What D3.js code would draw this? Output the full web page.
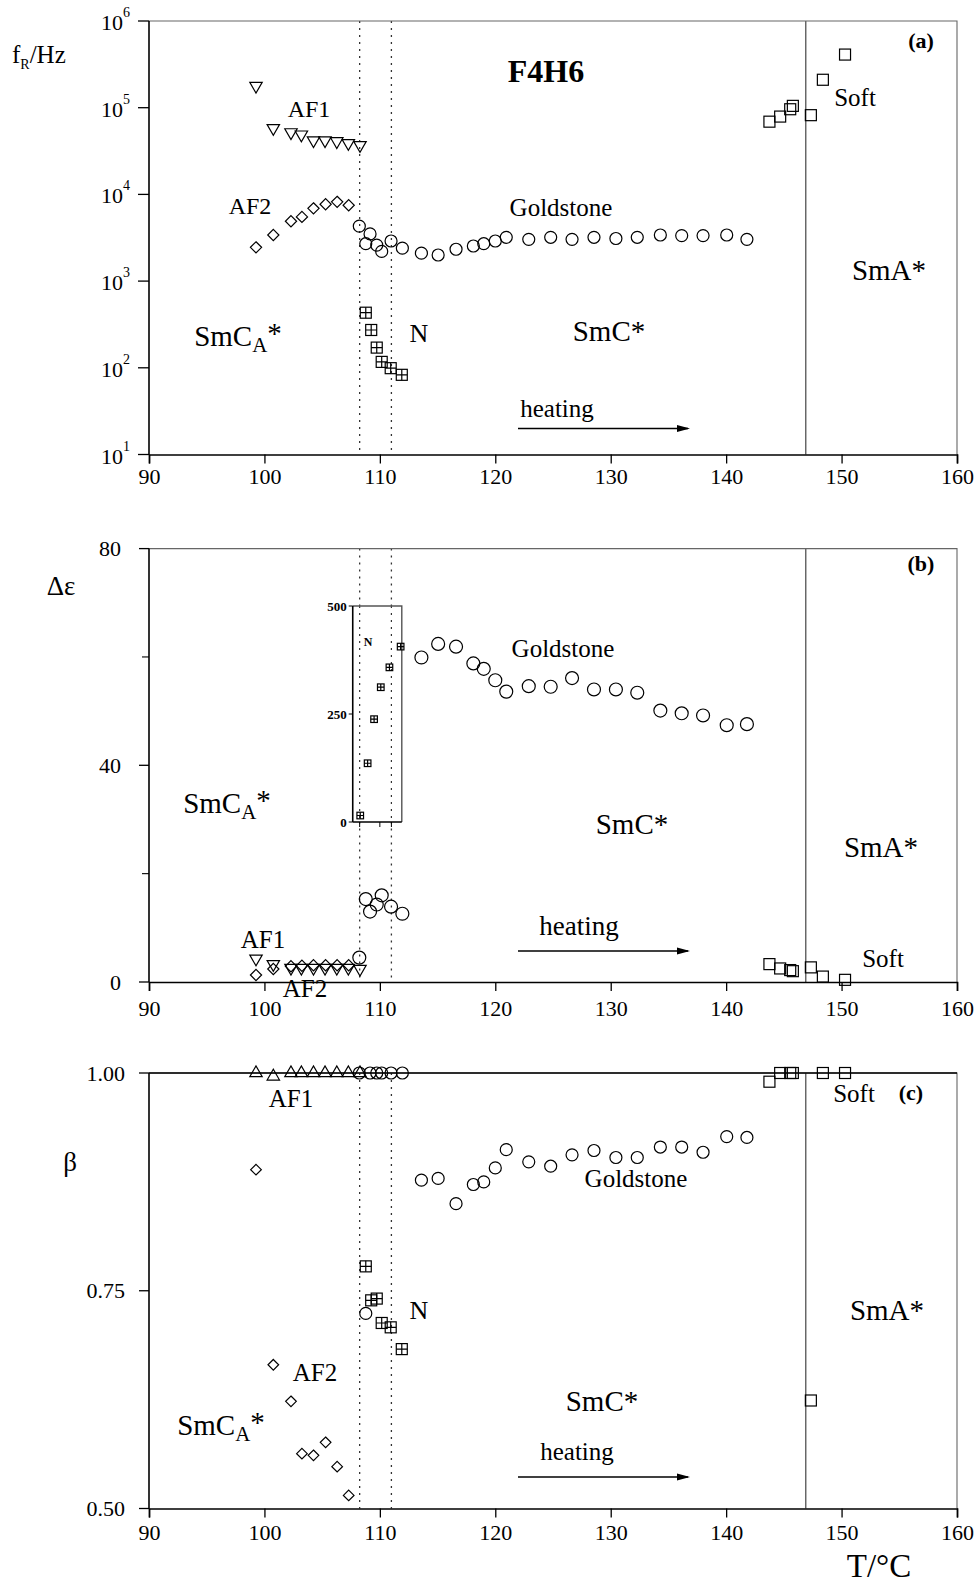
<!DOCTYPE html>
<html>
<head>
<meta charset="utf-8">
<script src="https://cdn.jsdelivr.net/npm/d3@7/dist/d3.min.js"></script>
<style>
  html, body { margin: 0; padding: 0; background: #fff; }
  svg { display: block; font-family: "Liberation Serif", "Times New Roman", serif; }
</style>
</head>
<body>
<svg id="chart" width="976" height="1584"></svg>
<script>
// ---- data -------------------------------------------------------------
const xTicks = [90, 100, 110, 120, 130, 140, 150, 160];
const logTicksA = [1, 2, 3, 4, 5, 6];            // exponents of 10
const yTicksB = [0, 40, 80];
const yMinorB = [20, 60];
const yTicksC = [0.50, 0.75, 1.00];
const yTickLabelsC = ["0.50", "0.75", "1.00"];
const insetTicks = [0, 250, 500];

const boundaryT = [108.25, 111.0, 146.9];        // dotted, dotted, solid

// AF1 mode
const af1T = [99.27, 100.77, 102.3, 103.2, 104.25, 105.25, 106.27, 107.27, 108.28];
const af1Freq = [178000, 58000, 52000, 49000, 42000, 42000, 41000, 39000, 37000];
const af1Eps = [4.3, 3.3, 2.6, 2.6, 2.6, 2.6, 2.6, 2.6, 2.4];
const af1Beta = [1.0, 0.996, 1.0, 1.0, 1.0, 1.0, 1.0, 1.0, 1.0];

// AF2 mode
const af2T = [99.27, 100.77, 102.3, 103.25, 104.25, 105.3, 106.3, 107.3];
const af2Freq = [2450, 3400, 4900, 5500, 6900, 7700, 8200, 7500];
const af2Eps = [1.3, 2.4, 2.9, 3.0, 3.1, 3.1, 3.1, 3.1];
const af2Beta = [0.889, 0.665, 0.623, 0.563, 0.561, 0.576, 0.548, 0.515];

// Goldstone mode
const gsT = [108.22, 108.78, 109.15, 109.73, 110.16, 110.97, 111.95, 113.6, 115.05, 116.6,
             118.1, 119.0, 120.0, 120.95, 122.9, 124.8, 126.65, 128.55, 130.45, 132.3,
             134.3, 136.15, 138.0, 140.05, 141.8];
const gsFreq = [4300, 2700, 3500, 2600, 2200, 2900, 2400, 2100, 2000, 2330,
                2540, 2700, 2900, 3200, 3030, 3200, 3030, 3200, 3100, 3200,
                3400, 3350, 3350, 3400, 3030];
const gsEps = [4.5, 15.3, 13.0, 14.3, 16.0, 13.9, 12.6, 59.9, 62.4, 61.9,
               58.8, 57.8, 55.7, 53.6, 54.6, 54.5, 56.1, 54.0, 54.0, 53.4,
               50.1, 49.6, 49.2, 47.4, 47.6];
const gsBeta = [1.0, 0.724, 1.0, 1.0, 1.0, 1.0, 1.0, 0.877, 0.879, 0.850,
                0.872, 0.875, 0.891, 0.912, 0.898, 0.893, 0.906, 0.911, 0.903, 0.903,
                0.915, 0.915, 0.909, 0.927, 0.926];

// N mode
const nT = [108.78, 109.25, 109.73, 110.16, 110.94, 111.9];
const nFreq = [432, 273, 171, 117, 99, 83];
const nBeta = [0.778, 0.739, 0.741, 0.713, 0.708, 0.683];
const nInsetT = [108.3, 108.94, 109.5, 110.08, 110.83, 111.8];
const nInsetEps = [15, 136, 238, 312, 358, 406];

// Soft mode
const softT = [143.75, 144.68, 145.55, 145.78, 147.34, 148.38, 150.3];
const softFreq = [69000, 79000, 96000, 105000, 82000, 210000, 410000];
const softEps = [3.3, 2.5, 2.2, 2.0, 2.7, 1.0, 0.4];
const softBeta = [0.99, 1.0, 1.0, 1.0, 0.624, 1.0, 1.0];

// ---- layout -----------------------------------------------------------
const svg = d3.select("#chart");
const X0 = 149, X1 = 957;
const x = d3.scaleLinear().domain([90, 160]).range([X0, X1]);
const yA = d3.scaleLog().domain([10, 1e6]).range([454.5, 21]);
const yB = d3.scaleLinear().domain([0, 80]).range([982, 548.6]);
const yC = d3.scaleLinear().domain([0.5, 1.0]).range([1508.5, 1073]);
const yIn = d3.scaleLinear().domain([0, 500]).range([822, 606]);
const insetX = [107.65, 111.9];

const zip = (a, b) => a.map((v, i) => [v, b[i]]);

// ---- markers ----------------------------------------------------------
function marker(g, type, cx, cy, s = 1) {
  const st = { fill: "none", stroke: "#000", "stroke-width": 1.2 };
  const apply = sel => { for (const k in st) sel.attr(k, st[k]); return sel; };
  if (type === "circle") {
    apply(g.append("circle").attr("cx", cx).attr("cy", cy).attr("r", 6 * s));
  } else if (type === "tdown" || type === "tup") {
    const a = 6.2 * s, h = a * Math.sqrt(3);
    const d = type === "tdown"
      ? `M${cx - a},${cy - h / 3}L${cx + a},${cy - h / 3}L${cx},${cy + 2 * h / 3}Z`
      : `M${cx - a},${cy + h / 3}L${cx + a},${cy + h / 3}L${cx},${cy - 2 * h / 3}Z`;
    apply(g.append("path").attr("d", d));
  } else if (type === "diamond") {
    const r = 5.6 * s;
    apply(g.append("path").attr("d", `M${cx},${cy - r}L${cx + r},${cy}L${cx},${cy + r}L${cx - r},${cy}Z`));
  } else if (type === "square") {
    const r = 5.5 * s;
    apply(g.append("rect").attr("x", cx - r).attr("y", cy - r).attr("width", 2 * r).attr("height", 2 * r));
  } else if (type === "splus") {
    const r = 5.5 * s;
    apply(g.append("rect").attr("x", cx - r).attr("y", cy - r).attr("width", 2 * r).attr("height", 2 * r));
    apply(g.append("path").attr("d", `M${cx - r},${cy}H${cx + r}M${cx},${cy - r}V${cy + r}`));
  }
}
function series(g, type, xs, ys, yScale, s = 1, xScale = x) {
  zip(xs, ys).forEach(([t, v]) => {
    if (v == null || isNaN(v)) return;
    marker(g, type, xScale(t), yScale(v), s);
  });
}

// ---- text helpers -----------------------------------------------------
function label(g, txt, cx, cy, size, opts = {}) {
  return g.append("text").attr("x", cx).attr("y", cy)
    .attr("text-anchor", opts.anchor || "middle")
    .attr("dominant-baseline", "central")
    .attr("font-size", size)
    .attr("font-weight", opts.bold ? "bold" : "normal")
    .text(txt);
}
function smcaLabel(g, cx, cy, size) {
  const t = g.append("text").attr("x", cx).attr("y", cy)
    .attr("text-anchor", "middle").attr("dominant-baseline", "central")
    .attr("font-size", size);
  t.append("tspan").text("SmC");
  t.append("tspan").attr("font-size", size * 0.72).attr("dy", size * 0.32).text("A");
  t.append("tspan").attr("dy", -size * 0.42).text("*");
}
function arrow(g, xStart, xEnd, yy) {
  g.append("line").attr("x1", xStart).attr("x2", xEnd - 2).attr("y1", yy).attr("y2", yy)
    .attr("stroke", "#000").attr("stroke-width", 1.3);
  g.append("path")
    .attr("d", `M${xEnd},${yy}L${xEnd - 13},${yy - 3.6}L${xEnd - 13},${yy + 3.6}Z`)
    .attr("fill", "#000");
}

// ---- panel frame ------------------------------------------------------
function frame(g, yTop, yBot, xLabelY) {
  // phase boundaries
  boundaryT.forEach((t, i) => {
    g.append("line").attr("x1", x(t)).attr("x2", x(t)).attr("y1", yTop).attr("y2", yBot)
      .attr("stroke", i < 2 ? "#333" : "#444")
      .attr("stroke-width", i < 2 ? 1.3 : 1.2)
      .attr("stroke-dasharray", i < 2 ? "2,5" : null);
  });
  // top and right borders (light)
  g.append("path").attr("d", `M${X0},${yTop}H${X1}V${yBot}`)
    .attr("fill", "none").attr("stroke", "#666").attr("stroke-width", 1.1);
  // bottom axis
  const ax = d3.axisBottom(x).tickValues(xTicks).tickSize(9).tickPadding(5)
    .tickFormat(d3.format("d"));
  const gx = g.append("g").attr("transform", `translate(0,${yBot})`).call(ax);
  gx.select(".domain").attr("stroke", "#000").attr("stroke-width", 1.6);
  gx.selectAll(".tick line").attr("stroke", "#000").attr("stroke-width", 1.3);
  gx.selectAll(".tick text").attr("font-size", 22).attr("font-family", "Liberation Serif")
    .attr("fill", "#000").attr("y", xLabelY - yBot).attr("dy", "0.35em");
}
function leftLine(g, yTop, yBot) {
  g.append("line").attr("x1", X0).attr("x2", X0).attr("y1", yTop).attr("y2", yBot)
    .attr("stroke", "#000").attr("stroke-width", 1.6);
}

// ---- panel (a) --------------------------------------------------------
const ga = svg.append("g");
frame(ga, 21, 454.5, 476);
leftLine(ga, 21, 454.5);
logTicksA.forEach(e => {
  const yy = yA(Math.pow(10, e));
  ga.append("line").attr("x1", X0 - 11).attr("x2", X0).attr("y1", yy).attr("y2", yy)
    .attr("stroke", "#000").attr("stroke-width", 1.3);
  const t = ga.append("text").attr("x", 130).attr("y", yy + 1).attr("text-anchor", "end")
    .attr("dominant-baseline", "central").attr("font-size", 22);
  t.append("tspan").text("10");
  t.append("tspan").attr("font-size", 14).attr("dy", -10).text(e);
});
{
  const t = ga.append("text").attr("x", 12).attr("y", 63).attr("font-size", 25);
  t.append("tspan").text("f");
  t.append("tspan").attr("font-size", 14).attr("dy", 6).text("R");
  t.append("tspan").attr("dy", -6).text("/Hz");
}
series(ga, "tdown", af1T, af1Freq, yA);
series(ga, "diamond", af2T, af2Freq, yA);
series(ga, "circle", gsT, gsFreq, yA);
series(ga, "splus", nT, nFreq, yA);
series(ga, "square", softT, softFreq, yA);
label(ga, "F4H6", 546, 71, 32, { bold: true });
label(ga, "(a)", 921, 40, 22, { bold: true });
label(ga, "AF1", 309, 109, 24);
label(ga, "AF2", 250, 206, 24);
label(ga, "Goldstone", 561, 207, 25);
smcaLabel(ga, 238, 336, 29);
label(ga, "N", 419, 333, 26);
label(ga, "SmC*", 609, 331, 29);
label(ga, "SmA*", 889, 270, 29);
label(ga, "Soft", 855, 97, 25);
label(ga, "heating", 557, 408, 25);
arrow(ga, 518, 690, 428.5);

// ---- panel (b) --------------------------------------------------------
const gb = svg.append("g");
frame(gb, 548.6, 982, 1008);
leftLine(gb, 548.6, 982);
yTicksB.forEach(v => {
  gb.append("line").attr("x1", X0 - 10).attr("x2", X0).attr("y1", yB(v)).attr("y2", yB(v))
    .attr("stroke", "#000").attr("stroke-width", 1.3);
  label(gb, String(v), 121, yB(v), 22, { anchor: "end" });
});
yMinorB.forEach(v => {
  gb.append("line").attr("x1", X0 - 7).attr("x2", X0).attr("y1", yB(v)).attr("y2", yB(v))
    .attr("stroke", "#000").attr("stroke-width", 1.1);
});
label(gb, "Δε", 61, 586, 27);
series(gb, "tdown", af1T, af1Eps, yB);
series(gb, "diamond", af2T, af2Eps, yB);
series(gb, "circle", gsT, gsEps, yB, 1.08);
series(gb, "square", softT, softEps, yB);

// inset with the N mode strength
{
  const gi = gb.append("g");
  const xl = x(insetX[0]), xr = x(insetX[1]);
  gi.append("rect").attr("x", xl).attr("y", yIn(500)).attr("width", xr - xl)
    .attr("height", yIn(0) - yIn(500)).attr("fill", "#fff").attr("stroke", "none");
  boundaryT.slice(0, 2).forEach(t => {
    gi.append("line").attr("x1", x(t)).attr("x2", x(t)).attr("y1", yIn(500)).attr("y2", yIn(0))
      .attr("stroke", "#333").attr("stroke-width", 1.2).attr("stroke-dasharray", "2,5");
  });
  gi.append("path").attr("d", `M${xl},${yIn(500)}H${xr}V${yIn(0)}`)
    .attr("fill", "none").attr("stroke", "#555").attr("stroke-width", 1.4);
  gi.append("line").attr("x1", xl).attr("x2", xl).attr("y1", yIn(500)).attr("y2", yIn(0))
    .attr("stroke", "#000").attr("stroke-width", 1.6);
  gi.append("line").attr("x1", xl).attr("x2", xr).attr("y1", yIn(0)).attr("y2", yIn(0))
    .attr("stroke", "#000").attr("stroke-width", 1.3);
  insetTicks.forEach(v => {
    gi.append("line").attr("x1", xl - 4).attr("x2", xl).attr("y1", yIn(v)).attr("y2", yIn(v))
      .attr("stroke", "#000");
    label(gi, String(v), xl - 6, yIn(v), 13, { anchor: "end", bold: true });
  });
  [108.25, 110, 111.0].forEach(t => {
    gi.append("line").attr("x1", x(t)).attr("x2", x(t)).attr("y1", yIn(0)).attr("y2", yIn(0) + 5)
      .attr("stroke", "#000");
  });
  label(gi, "N", 368, 642, 12, { bold: true });
  series(gi, "splus", nInsetT, nInsetEps, yIn, 0.6);
}
label(gb, "(b)", 921, 563, 22, { bold: true });
label(gb, "Goldstone", 563, 648, 25);
smcaLabel(gb, 227, 803, 29);
label(gb, "SmC*", 632, 824, 29);
label(gb, "SmA*", 881, 847, 29);
label(gb, "AF1", 263, 939, 25);
label(gb, "AF2", 305, 988, 25);
label(gb, "heating", 579, 926, 27);
arrow(gb, 518, 690, 951);
label(gb, "Soft", 883, 958, 25);

// ---- panel (c) --------------------------------------------------------
const gc = svg.append("g");
frame(gc, 1073, 1508.5, 1532);
leftLine(gc, 1073, 1508.5);
yTicksC.forEach((v, i) => {
  gc.append("line").attr("x1", X0 - 10).attr("x2", X0).attr("y1", yC(v)).attr("y2", yC(v))
    .attr("stroke", "#000").attr("stroke-width", 1.3);
  label(gc, yTickLabelsC[i], 125, yC(v), 22, { anchor: "end" });
});
gc.append("line").attr("x1", X0).attr("x2", X1).attr("y1", yC(1)).attr("y2", yC(1))
  .attr("stroke", "#000").attr("stroke-width", 1.3);
label(gc, "β", 70, 1162, 27);
series(gc, "tup", af1T, af1Beta, yC);
series(gc, "diamond", af2T, af2Beta, yC, 0.95);
series(gc, "circle", gsT, gsBeta, yC);
series(gc, "splus", nT, nBeta, yC);
series(gc, "square", softT, softBeta, yC);
label(gc, "(c)", 911, 1092, 22, { bold: true });
label(gc, "AF1", 291, 1098, 25);
label(gc, "Goldstone", 636, 1178, 25);
label(gc, "Soft", 854, 1093, 25);
label(gc, "N", 419, 1310, 26);
label(gc, "SmA*", 887, 1310, 29);
label(gc, "AF2", 315, 1372, 25);
label(gc, "SmC*", 602, 1401, 29);
smcaLabel(gc, 221, 1425, 29);
label(gc, "heating", 577, 1451, 25);
arrow(gc, 518, 690, 1477);
label(gc, "T/°C", 879, 1566, 33);
</script>
</body>
</html>
